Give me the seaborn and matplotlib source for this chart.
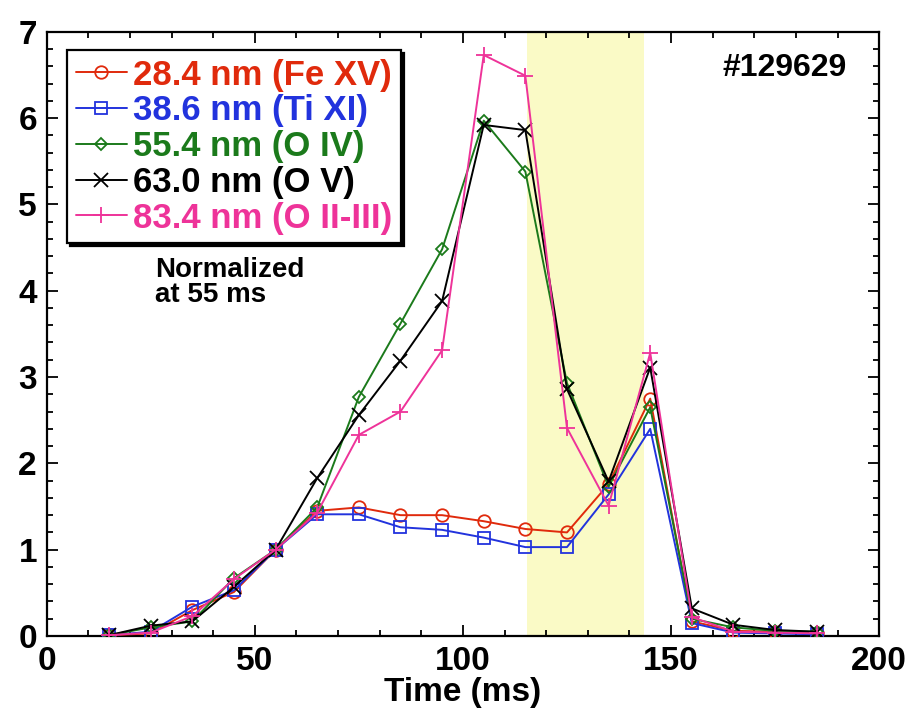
import matplotlib
matplotlib.use("Agg")
import matplotlib.pyplot as plt
from matplotlib.ticker import MultipleLocator
import pandas as pd
import seaborn as sns

# ---- data ----
time_ms = [15, 25, 35, 45, 55, 65, 75, 85, 95, 105, 115, 125, 135, 145, 155, 165, 175, 185]
fe_xv = [0.01, 0.03, 0.30, 0.51, 1.0, 1.45, 1.49, 1.40, 1.40, 1.33, 1.24, 1.20, 1.76, 2.75, 0.17, 0.06, 0.05, 0.04]
ti_xi = [0.01, 0.05, 0.34, 0.53, 1.0, 1.41, 1.41, 1.26, 1.23, 1.14, 1.03, 1.03, 1.64, 2.40, 0.15, 0.04, 0.03, 0.02]
o_iv = [0.01, 0.10, 0.17, 0.67, 1.0, 1.49, 2.77, 3.62, 4.48, 5.97, 5.38, 2.93, 1.73, 2.65, 0.20, 0.10, 0.06, 0.05]
o_v = [0.01, 0.12, 0.17, 0.57, 1.0, 1.83, 2.56, 3.19, 3.88, 5.92, 5.86, 2.86, 1.79, 3.11, 0.32, 0.13, 0.07, 0.05]
o_ii_iii = [0.01, 0.04, 0.23, 0.66, 1.0, 1.43, 2.33, 2.60, 3.31, 6.73, 6.49, 2.41, 1.51, 3.28, 0.22, 0.05, 0.04, 0.03]

labels = ["28.4 nm (Fe XV)", "38.6 nm (Ti XI)", "55.4 nm (O IV)", "63.0 nm (O V)", "83.4 nm (O II-III)"]
series = [fe_xv, ti_xi, o_iv, o_v, o_ii_iii]
colors = ["#E02A0C", "#2233DD", "#1B7A1B", "#000000", "#EE3399"]
markers = ["o", "s", "D", "x", "+"]
msizes = [9, 8.5, 6.5, 9.5, 11]

band = (115.5, 143.5)
shot_label = "#129629"
note = "Normalized\nat 55 ms"

df = pd.concat([pd.DataFrame({"t": time_ms, "v": s, "line": l}) for s, l in zip(series, labels)],
               ignore_index=True)

sns.set_style("ticks")
plt.rcParams["font.family"] = ["Liberation Sans", "DejaVu Sans"]
plt.rcParams["font.weight"] = "bold"
plt.rcParams["text.color"] = "black"
plt.rcParams["axes.labelcolor"] = "black"
plt.rcParams["xtick.color"] = "black"
plt.rcParams["ytick.color"] = "black"

fig = plt.figure(figsize=(9.1, 7.14), dpi=100)
ax = fig.add_axes([0.0513, 0.1092, 0.9148, 0.8464])

ax.axvspan(band[0], band[1], color="#FAFAC6", zorder=0, lw=0)

handles = []
for lab, col, mk, ms in zip(labels, colors, markers, msizes):
    sub = df[df["line"] == lab]
    sns.lineplot(data=sub, x="t", y="v", ax=ax, color=col, marker=mk, markersize=ms,
                 markerfacecolor="none", markeredgecolor=col, markeredgewidth=1.3,
                 linewidth=1.4, estimator=None, legend=False, zorder=3)
    handles.append(ax.lines[-1])

ax.set_xlim(0, 200)
ax.set_ylim(0, 7)
ax.xaxis.set_major_locator(MultipleLocator(50))
ax.xaxis.set_minor_locator(MultipleLocator(10))
ax.yaxis.set_major_locator(MultipleLocator(1))
ax.yaxis.set_minor_locator(MultipleLocator(0.2))
ax.tick_params(which="both", direction="in", top=True, right=True, width=1.3, colors="black")
ax.tick_params(which="major", length=8, labelsize=24, pad=7)
ax.tick_params(which="minor", length=4)
for sp in ax.spines.values():
    sp.set_linewidth(1.6)
    sp.set_visible(True)
    sp.set_color("black")
for t in ax.get_xticklabels() + ax.get_yticklabels():
    t.set_fontweight("bold")
    t.set_color("black")

ax.set_xlabel("Time (ms)", fontsize=24, fontweight="bold", labelpad=0, color="black")
ax.set_ylabel("")

leg = ax.legend(handles, labels, loc="upper left", bbox_to_anchor=(0.025, 0.97),
                borderaxespad=0, frameon=True, fancybox=False, shadow={"color": "black", "alpha": 1},
                prop={"size": 25, "weight": "bold"}, handlelength=1.45, handletextpad=0.2,
                labelspacing=0.08, borderpad=0.25)
leg.get_frame().set_edgecolor("black")
leg.get_frame().set_linewidth(1.6)
for txt, col in zip(leg.get_texts(), colors):
    txt.set_color(col)

ax.text(0.886, 0.94, shot_label, transform=ax.transAxes, ha="center", va="center",
        fontsize=23, fontweight="bold", color="black")
ax.text(0.13, 0.628, note, transform=ax.transAxes, ha="left", va="top",
        fontsize=20, fontweight="bold", linespacing=0.95, color="black")

fig.savefig("out.png", dpi=100)
